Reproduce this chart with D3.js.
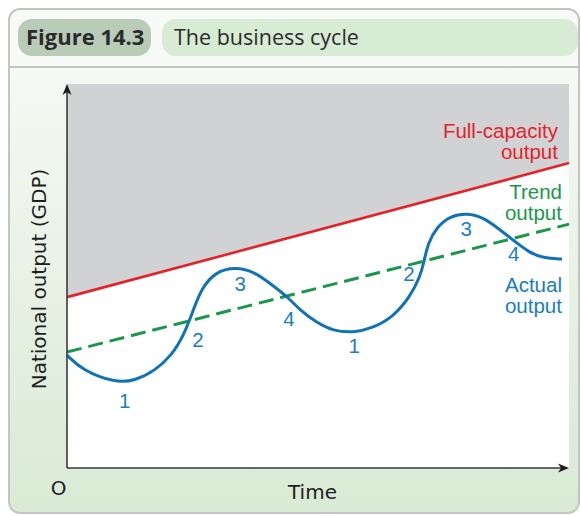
<!DOCTYPE html>
<html>
<head>
<meta charset="utf-8">
<script src="https://cdn.jsdelivr.net/npm/d3@7"></script>
<style>
  body { margin: 0; background: #fff; }
  svg { display: block; }
</style>
</head>
<body>
<div id="chart"></div>
<script>
// time runs 0..10, output 0..10 (arbitrary units)
let timeEnds = [0, 10];
let fullCapacity = [4.45, 7.94];
let trendOutput = [3.02, 6.35];

let actualTime   = [0, 0.30, 0.96, 1.35, 1.75, 2.09, 2.33, 2.53, 2.69, 2.95, 3.35, 3.75, 4.08, 4.40, 4.64, 4.98, 5.30, 5.70, 6.10, 6.49, 6.83, 7.03, 7.11, 7.19, 7.37, 7.63, 7.97, 8.29, 8.63, 8.88, 9.22, 9.48, 9.86];
let actualOutput = [2.94, 2.55, 2.22, 2.27, 2.53, 2.94, 3.46, 4.17, 4.69, 5.10, 5.24, 5.10, 4.77, 4.45, 4.11, 3.78, 3.57, 3.52, 3.65, 3.93, 4.45, 4.97, 5.36, 5.86, 6.28, 6.56, 6.64, 6.53, 6.20, 5.94, 5.60, 5.47, 5.44];

let phaseLabels = ["1", "2", "3", "4", "1", "2", "3", "4"];
let phaseTime   = [1.15, 2.61, 3.45, 4.42, 5.72, 6.81, 7.95, 8.90];
let phaseOutput = [1.56, 3.15, 4.61, 3.70, 2.99, 4.87, 6.04, 5.39];

let seriesNames = [["Full-capacity", "output"], ["Trend", "output"], ["Actual", "output"]];
let seriesNameOutput = [8.59, 7.01, 4.58];

let W = 581, H = 516;
let red = "#e42229", green = "#1b9847", blue = "#0f73b5", blueText = "#1a7ec0";

let svg = d3.select("#chart").append("svg")
    .attr("width", W)
    .attr("height", H);

let defs = svg.append("defs");
let grad = defs.append("linearGradient")
    .attr("id", "panelGrad")
    .attr("x1", 0).attr("y1", 0).attr("x2", 0).attr("y2", 1);
grad.append("stop").attr("offset", "0%").attr("stop-color", "#f6f9f4");
grad.append("stop").attr("offset", "100%").attr("stop-color", "#d8ead4");

defs.append("clipPath").attr("id", "cardClip")
    .append("rect")
    .attr("x", 9).attr("y", 9)
    .attr("width", 570).attr("height", 504)
    .attr("rx", 11);

// card
svg.append("rect")
    .attr("x", 9).attr("y", 9)
    .attr("width", 570).attr("height", 504)
    .attr("rx", 11)
    .attr("fill", "#f8faf7");

svg.append("rect")
    .attr("clip-path", "url(#cardClip)")
    .attr("x", 9).attr("y", 67)
    .attr("width", 570).attr("height", 450)
    .attr("fill", "url(#panelGrad)");

svg.append("line")
    .attr("x1", 9).attr("x2", 579)
    .attr("y1", 67).attr("y2", 67)
    .attr("stroke", "#c4c6c4")
    .attr("stroke-width", 2);

svg.append("rect")
    .attr("x", 9).attr("y", 9)
    .attr("width", 570).attr("height", 504)
    .attr("rx", 11)
    .attr("fill", "none")
    .attr("stroke", "#c3c5c3")
    .attr("stroke-width", 2);

// header pills
svg.append("rect")
    .attr("x", 18).attr("y", 19)
    .attr("width", 133).attr("height", 37)
    .attr("rx", 14)
    .attr("fill", "#b8ccb8");
svg.append("text")
    .attr("x", 26).attr("y", 45)
    .style("font-family", "'Open Sans', sans-serif")
    .style("font-weight", "bold")
    .style("font-size", "22px")
    .attr("fill", "#2b2b2b")
    .text("Figure 14.3");

svg.append("rect")
    .attr("x", 162).attr("y", 19)
    .attr("width", 416).attr("height", 37)
    .attr("rx", 14)
    .attr("fill", "#d8ebd5");
svg.append("text")
    .attr("x", 174).attr("y", 45)
    .style("font-family", "'Open Sans', sans-serif")
    .style("font-size", "21.5px")
    .attr("fill", "#2b2b2b")
    .text("The business cycle");

// plot
let x = d3.scaleLinear().domain([0, 10]).range([67, 569]);
let y = d3.scaleLinear().domain([0, 10]).range([468, 84]);

svg.append("rect")
    .attr("x", x(0)).attr("y", y(10))
    .attr("width", x(10) - x(0))
    .attr("height", y(0) - y(10))
    .attr("fill", "#fff");

let ends = timeEnds.map((t, i) => ({t: t, fc: fullCapacity[i], tr: trendOutput[i]}));

svg.append("path")
    .datum(ends)
    .attr("fill", "#d1d2d4")
    .attr("d", d3.area().x(d => x(d.t)).y0(y(10)).y1(d => y(d.fc)));

svg.append("path")
    .datum(ends)
    .attr("fill", "none")
    .attr("stroke", red)
    .attr("stroke-width", 2.6)
    .attr("d", d3.line().x(d => x(d.t)).y(d => y(d.fc)));

svg.append("path")
    .datum(ends)
    .attr("fill", "none")
    .attr("stroke", green)
    .attr("stroke-width", 3)
    .attr("stroke-dasharray", "15,7")
    .attr("d", d3.line().x(d => x(d.t)).y(d => y(d.tr)));

let actual = actualTime.map((t, i) => ({t: t, v: actualOutput[i]}));
svg.append("path")
    .datum(actual)
    .attr("fill", "none")
    .attr("stroke", blue)
    .attr("stroke-width", 3)
    .attr("d", d3.line().curve(d3.curveBasis).x(d => x(d.t)).y(d => y(d.v)));

// axes with arrow heads
let axisCol = "#3a3a3a";
svg.append("line")
    .attr("x1", x(0)).attr("x2", x(10) - 4)
    .attr("y1", y(0)).attr("y2", y(0))
    .attr("stroke", axisCol).attr("stroke-width", 1.6);
svg.append("line")
    .attr("x1", x(0)).attr("x2", x(0))
    .attr("y1", y(0)).attr("y2", y(10) + 4)
    .attr("stroke", axisCol).attr("stroke-width", 1.6);
svg.append("path")
    .attr("fill", "#1e1e1e")
    .attr("d", `M${x(10)},${y(0)} L${x(10) - 11},${y(0) - 4.5} L${x(10) - 8},${y(0)} L${x(10) - 11},${y(0) + 4.5} Z`);
svg.append("path")
    .attr("fill", "#1e1e1e")
    .attr("d", `M${x(0)},${y(10)} L${x(0) - 4.5},${y(10) + 11} L${x(0)},${y(10) + 8} L${x(0) + 4.5},${y(10) + 11} Z`);

// axis titles
let axisFont = "'DejaVu Sans', sans-serif";
svg.append("text")
    .attr("transform", `translate(46,${(y(0) + y(10)) / 2 + 3}) rotate(-90)`)
    .attr("text-anchor", "middle")
    .style("font-family", axisFont)
    .style("font-size", "20px")
    .attr("fill", "#1e1e1e")
    .text("National output (GDP)");

svg.append("text")
    .attr("x", 58.5).attr("y", 495)
    .attr("text-anchor", "middle")
    .style("font-family", axisFont)
    .style("font-size", "20px")
    .attr("fill", "#1e1e1e")
    .text("O");

svg.append("text")
    .attr("x", 288).attr("y", 499)
    .style("font-family", axisFont)
    .style("font-size", "20px")
    .attr("fill", "#1e1e1e")
    .text("Time");

// phase numbers
let labFont = "'Liberation Sans', Arial, sans-serif";
svg.selectAll(".phase")
    .data(phaseLabels)
    .enter()
    .append("text")
    .attr("class", "phase")
    .attr("x", (d, i) => x(phaseTime[i]))
    .attr("y", (d, i) => y(phaseOutput[i]))
    .attr("text-anchor", "middle")
    .style("font-family", labFont)
    .style("font-size", "20.5px")
    .attr("fill", blueText)
    .text(d => d);

// series names
let nameColors = [red, green, blueText];
let nameRight = [9.78, 9.86, 9.86];
seriesNames.forEach(function(lines, i) {
    let t = svg.append("text")
        .attr("text-anchor", "end")
        .style("font-family", labFont)
        .style("font-size", "20.5px")
        .attr("fill", nameColors[i]);
    lines.forEach(function(line, j) {
        t.append("tspan")
            .attr("x", x(nameRight[i]))
            .attr("y", y(seriesNameOutput[i]) + j * 21)
            .text(line);
    });
});
</script>
</body>
</html>
